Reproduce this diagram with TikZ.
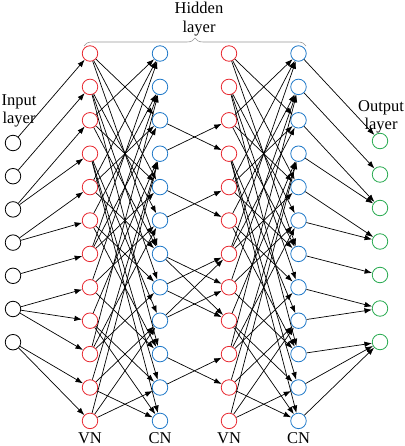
\documentclass[tikz,border=0pt]{standalone}
\usepackage{fontspec}
\setmainfont{Liberation Serif}
\usetikzlibrary{arrows.meta,decorations.pathreplacing}
\definecolor{vnred}{RGB}{232,40,48}
\definecolor{cnblue}{RGB}{30,120,200}
\definecolor{outgreen}{RGB}{40,170,80}
\definecolor{bracegray}{RGB}{150,150,150}
\begin{document}
\begin{tikzpicture}[x=1pt,y=-1pt,
  neuron/.style={circle,draw,line width=0.8pt,minimum size=15.5pt,inner sep=0pt},
  vnode/.style={neuron,draw=vnred},
  cnode/.style={neuron,draw=cnblue},
  inode/.style={neuron,draw=black},
  onode/.style={neuron,draw=outgreen},
  arr/.style={line width=0.7pt,-{Latex[length=7.5pt,width=5.5pt]}},
  lbl/.style={font=\fontsize{16.5}{18.5}\selectfont,inner sep=0pt,align=center}]
\useasboundingbox (0,0) rectangle (404,446);
% hidden layer columns
\foreach \i in {1,...,12}{
  \pgfmathsetmacro\yy{53.5+(\i-1)*33.4}
  \node[vnode] (a\i) at (90,\yy) {};
  \node[cnode] (b\i) at (160,\yy) {};
  \node[vnode] (c\i) at (229,\yy) {};
  \node[cnode] (d\i) at (298.5,\yy) {};
}
% input and output layers
\foreach \i in {1,...,7}{
  \pgfmathsetmacro\yi{143+(\i-1)*33.2}
  \pgfmathsetmacro\yo{141+(\i-1)*33.5}
  \node[inode] (in\i) at (13,\yi) {};
  \node[onode] (out\i) at (380,\yo) {};
}
% input -> VN
\foreach \s/\t in {1/1,2/2,3/3,3/4,4/5,4/6,5/7,6/8,6/9,6/10,7/11,7/12}
  \draw[arr] (in\s) -- (a\t);
% VN -> CN (both stages)
\foreach \s/\t in {1/3,1/5,1/7,3/1,3/5,3/7,5/1,5/3,5/7,7/1,7/3,7/5,
                   2/6,2/8,2/10,6/2,6/8,6/10,8/2,8/6,8/10,10/2,10/6,10/8,
                   4/9,4/11,4/12,9/4,9/11,9/12,11/4,11/9,11/12,12/4,12/9,12/11}{
  \draw[arr] (a\s) -- (b\t);
  \draw[arr] (c\s) -- (d\t);
}
% CN -> VN
\foreach \s/\t in {3/4,4/3,5/6,6/5,7/8,7/9,8/7,8/9,9/7,9/8,10/11,11/10}
  \draw[arr] (b\s) -- (c\t);
% CN -> output
\foreach \s/\t in {1/1,2/2,3/3,4/3,5/4,6/4,7/5,8/6,9/6,10/7,11/7,12/7}
  \draw[arr] (d\s) -- (out\t);
% brace
\draw[bracegray,line width=0.6pt,decorate,decoration={brace,amplitude=8pt}] (84,46) -- (306,46);
% labels
\node[lbl,anchor=north] (hid) at (199,2) {Hidden\\layer};
\node[lbl,anchor=north] (inl) at (19,94) {Input\\layer};
\node[lbl,anchor=north] (outl) at (381,100) {Output\\layer};
\node[lbl,anchor=base] (vn1) at (90,443) {VN};
\node[lbl,anchor=base] (cn1) at (160,443) {CN};
\node[lbl,anchor=base] (vn2) at (229,443) {VN};
\node[lbl,anchor=base] (cn2) at (298.5,443) {CN};
\end{tikzpicture}
\end{document}
